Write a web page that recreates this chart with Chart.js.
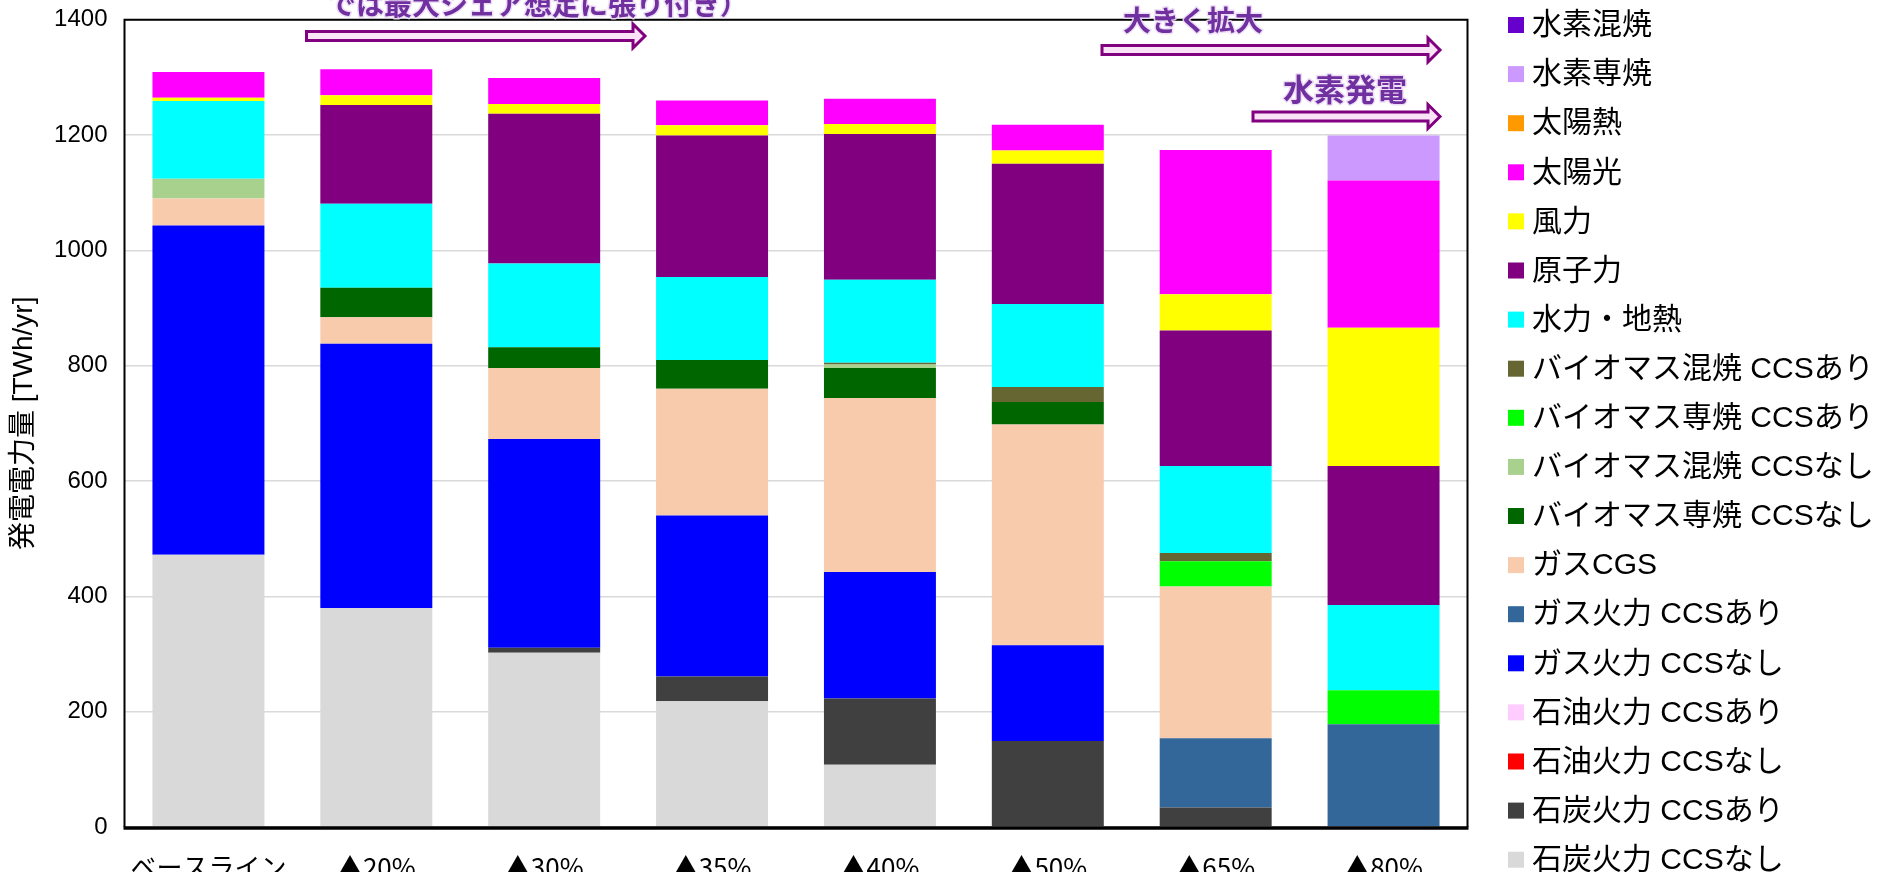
<!DOCTYPE html>
<html lang="ja">
<head>
<meta charset="utf-8">
<title>発電電力量</title>
<script src="https://cdn.jsdelivr.net/npm/chart.js@4/dist/chart.umd.min.js"></script>
<style>
  html, body { margin: 0; padding: 0; background: #ffffff; }
  #wrap { width: 1880px; height: 872px; position: relative; overflow: hidden; }
  canvas { display: block; }
</style>
</head>
<body>
<div id="wrap"><canvas id="chart" width="1880" height="872"></canvas></div>
<script>
// Scenario categories (x axis)
const categories = ['ベースライン', '▲20%', '▲30%', '▲35%', '▲40%', '▲50%', '▲65%', '▲80%'];

// Y axis range and tick labels [TWh/yr]
const yTicks = [0, 200, 400, 600, 800, 1000, 1200, 1400];

// Generation by source [TWh/yr], one value per scenario (stack bottom -> top)
const coalNoCcs        = [472, 380, 302, 218, 108,   0,   0,   0];
const coalCcs          = [  0,   0,   9,  43, 115, 149,  34,   0];
const oilNoCcs         = [  0,   0,   0,   0,   0,   0,   0,   0];
const oilCcs           = [  0,   0,   0,   0,   0,   0,   0,   0];
const gasNoCcs         = [571, 458, 362, 279, 219, 166,   0,   0];
const gasCcs           = [  0,   0,   0,   0,   0,   0, 120, 178];
const gasCgs           = [ 47,  46, 123, 220, 302, 383, 263,   0];
const bioDedicatedNoCcs= [  0,  51,  36,  50,  52,  39,   0,   0];
const bioCofireNoCcs   = [ 34,   0,   0,   0,   6,   0,   0,   0];
const bioDedicatedCcs  = [  0,   0,   0,   0,   0,   0,  44,  59];
const bioCofireCcs     = [  0,   0,   0,   0,   3,  26,  14,   0];
const hydroGeothermal  = [135, 146, 145, 144, 144, 144, 151, 148];
const nuclear          = [  0, 171, 260, 245, 253, 243, 235, 241];
const wind             = [5.5,  17,  17,  18,  17,  23,  63, 240];
const solarPv          = [ 45,  45,  45,  43,  44,  45, 250, 255];
const solarThermal     = [  0,   0,   0,   0,   0,   0,   0,   0];
const h2Dedicated      = [  0,   0,   0,   0,   0,   0,   0,  78];
const h2Cofire         = [  0,   0,   0,   0,   0,   0,   0,   0];

// Series names and colours, in stacking order
const seriesNames = [
  '石炭火力 CCSなし', '石炭火力 CCSあり', '石油火力 CCSなし', '石油火力 CCSあり',
  'ガス火力 CCSなし', 'ガス火力 CCSあり', 'ガスCGS',
  'バイオマス専焼 CCSなし', 'バイオマス混焼 CCSなし',
  'バイオマス専焼 CCSあり', 'バイオマス混焼 CCSあり',
  '水力・地熱', '原子力', '風力', '太陽光', '太陽熱', '水素専焼', '水素混焼'
];
const seriesValues = [
  coalNoCcs, coalCcs, oilNoCcs, oilCcs, gasNoCcs, gasCcs, gasCgs,
  bioDedicatedNoCcs, bioCofireNoCcs, bioDedicatedCcs, bioCofireCcs,
  hydroGeothermal, nuclear, wind, solarPv, solarThermal, h2Dedicated, h2Cofire
];
const seriesColors = [
  '#D9D9D9', '#404040', '#FF0000', '#FFCCFF',
  '#0000FF', '#336699', '#F8CBAD',
  '#006600', '#A9D18E',
  '#00FF00', '#666633',
  '#00FFFF', '#800080', '#FFFF00', '#FF00FF', '#FF9900', '#CC99FF', '#6600CC'
];

const LATIN_CJK = '"Liberation Sans", Arial, "Noto Sans CJK JP", sans-serif';
const NARROW = '"Liberation Sans Narrow", "Arial Narrow", "Liberation Sans", Arial, sans-serif';
const CJK = '"Noto Sans CJK JP", sans-serif';

const datasets = seriesNames.map((name, i) => ({
  label: name,
  data: seriesValues[i],
  backgroundColor: seriesColors[i],
  borderWidth: 0,
  categoryPercentage: 1.0,
  barPercentage: 0.667
}));

// Plot frame: thin box, heavier bottom axis
const framePlugin = {
  id: 'frame',
  afterDatasetsDraw(chart) {
    const { ctx, chartArea: a } = chart;
    ctx.save();
    ctx.strokeStyle = '#000000';
    ctx.lineWidth = 2;
    ctx.beginPath();
    ctx.moveTo(a.left, a.bottom);
    ctx.lineTo(a.left, a.top);
    ctx.lineTo(a.right, a.top);
    ctx.lineTo(a.right, a.bottom);
    ctx.stroke();
    ctx.lineWidth = 3.5;
    ctx.beginPath();
    ctx.moveTo(a.left - 1, a.bottom + 1);
    ctx.lineTo(a.right + 1, a.bottom + 1);
    ctx.stroke();
    ctx.restore();
  }
};

// Legend listed top -> bottom in reverse stacking order
const legendPlugin = {
  id: 'sideLegend',
  afterDraw(chart) {
    const { ctx } = chart;
    const items = chart.data.datasets.slice().reverse();
    const x0 = 1508, y0 = 25, step = 49.1, box = 16;
    ctx.save();
    ctx.font = '30px ' + LATIN_CJK;
    ctx.textBaseline = 'middle';
    ctx.textAlign = 'left';
    items.forEach((ds, i) => {
      const cy = y0 + i * step;
      ctx.fillStyle = ds.backgroundColor;
      ctx.fillRect(x0, cy - box / 2, box, box);
      ctx.fillStyle = '#000000';
      ctx.fillText(ds.label, x0 + 24, cy + 1);
    });
    ctx.restore();
  }
};

// Call-out arrows and notes above the bars
function blockArrow(ctx, x0, x1, cy) {
  const shaftH = 9, headH = 24, headL = 12;
  ctx.beginPath();
  ctx.moveTo(x0, cy - shaftH / 2);
  ctx.lineTo(x1 - headL, cy - shaftH / 2);
  ctx.lineTo(x1 - headL, cy - headH / 2);
  ctx.lineTo(x1, cy);
  ctx.lineTo(x1 - headL, cy + headH / 2);
  ctx.lineTo(x1 - headL, cy + shaftH / 2);
  ctx.lineTo(x0, cy + shaftH / 2);
  ctx.closePath();
  ctx.fillStyle = '#FBE3F7';
  ctx.fill();
  ctx.lineJoin = 'miter';
  ctx.strokeStyle = '#800080';
  ctx.lineWidth = 3;
  ctx.stroke();
}
function note(ctx, text, x, y, size) {
  ctx.font = 'bold ' + size + 'px ' + CJK;
  ctx.textAlign = 'left';
  ctx.textBaseline = 'middle';
  ctx.lineJoin = 'round';
  ctx.strokeStyle = 'rgba(235,220,245,0.9)';
  ctx.lineWidth = 3;
  ctx.strokeText(text, x, y);
  ctx.fillStyle = '#7030A0';
  ctx.fillText(text, x, y);
}
const calloutPlugin = {
  id: 'callouts',
  afterDraw(chart) {
    const { ctx } = chart;
    ctx.save();
    blockArrow(ctx, 306.5, 645, 36);
    blockArrow(ctx, 1102, 1440, 50);
    blockArrow(ctx, 1253, 1440, 116.5);
    note(ctx, 'では最大シェア想定に張り付き）', 328, 4, 28);
    note(ctx, '大きく拡大', 1123, 20.5, 28);
    note(ctx, '水素発電', 1283, 89.5, 31);
    ctx.restore();
  }
};

new Chart(document.getElementById('chart'), {
  type: 'bar',
  data: { labels: categories, datasets },
  options: {
    responsive: false,
    animation: false,
    events: [],
    layout: { padding: { left: 0, right: 412.5, top: 19.7, bottom: 0 } },
    plugins: {
      legend: { display: false },
      tooltip: { enabled: false }
    },
    scales: {
      x: {
        stacked: true,
        grid: { display: false, drawTicks: false },
        border: { display: false },
        ticks: {
          color: '#000000',
          padding: 35,
          maxRotation: 0,
          autoSkip: false,
          font: { family: CJK, size: 26, lineHeight: 0.4 }
        },
        afterFit(scale) { scale.height = 45; }
      },
      y: {
        stacked: true,
        min: yTicks[0],
        max: yTicks[yTicks.length - 1],
        afterBuildTicks(scale) { scale.ticks = yTicks.map(v => ({ value: v })); },
        grid: { color: '#D9D9D9', lineWidth: 1.5, drawTicks: false },
        border: { display: false },
        ticks: {
          color: '#000000',
          padding: 17,
          font: { family: NARROW, size: 24 },
          callback: (v) => String(v)
        },
        title: {
          display: true,
          text: '発電電力量 [TWh/yr]',
          color: '#000000',
          font: { family: LATIN_CJK, size: 28 },
          padding: { top: 7, bottom: 0 }
        },
        afterFit(scale) {
          scale.width = 124.5;
          scale.paddingTop = 0;
          scale.paddingBottom = 0;
        }
      }
    }
  },
  plugins: [framePlugin, legendPlugin, calloutPlugin]
});
</script>
</body>
</html>
